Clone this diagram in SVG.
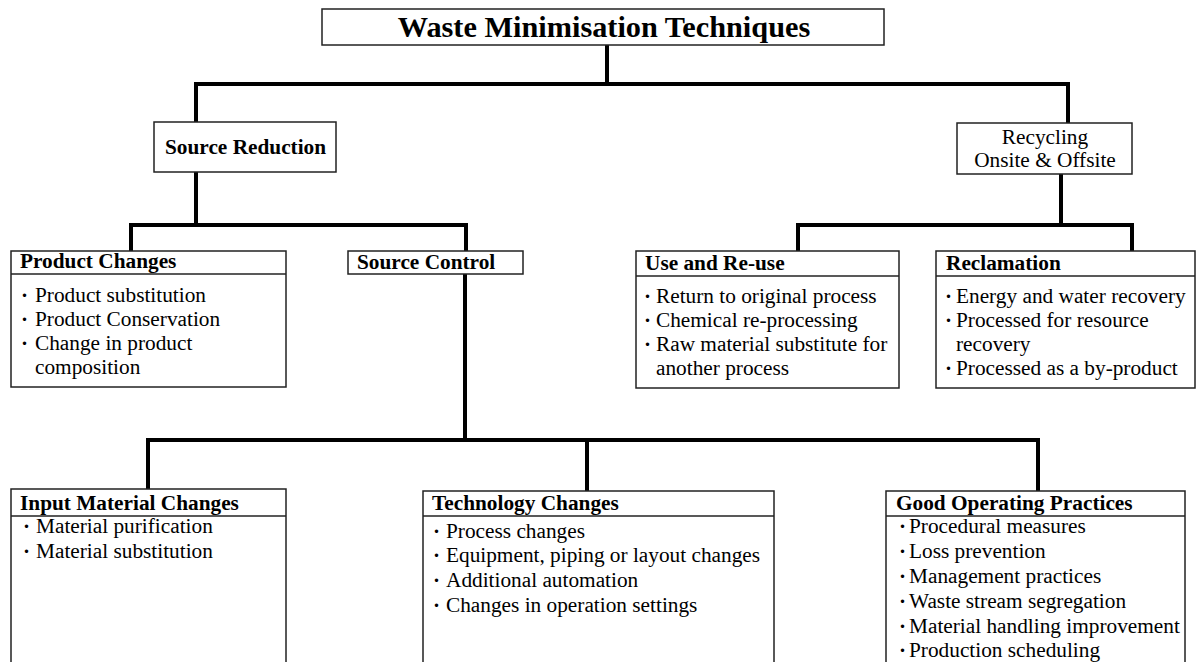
<svg xmlns="http://www.w3.org/2000/svg" width="1196" height="662" viewBox="0 0 1196 662">
<style>
.box{fill:#fff;stroke:#222;stroke-width:1.5}
.sep{stroke:#222;stroke-width:1.5;fill:none}
.con{stroke:#000;stroke-width:4;fill:none;stroke-linecap:square}
.t{font-family:"Liberation Serif","Times New Roman",serif;font-size:21.3px;fill:#000}
.h{font-family:"Liberation Serif","Times New Roman",serif;font-size:21.3px;font-weight:bold;fill:#000}
.title{font-family:"Liberation Serif","Times New Roman",serif;font-size:30.3px;font-weight:bold;fill:#000}
.b{font-family:"Liberation Serif","Times New Roman",serif;font-size:21px;font-weight:bold;fill:#000}
</style>
<rect width="1196" height="662" fill="#fff"/>
<g id="connectors">
<path class="con" d="M607,45 V84 M196,84 H1068 M196,84 V122 M1068,84 V123"/>
<path class="con" d="M196,172 V225 M131,225 H466 M131,225 V251 M466,225 V251 M465,274 V440"/>
<path class="con" d="M1061,174 V225 M798,225 H1132 M798,225 V251 M1132,225 V251"/>
<path class="con" d="M148,440 H1038 M148,440 V489 M587,440 V491 M1038,440 V491"/>
</g>
<g id="title">
<rect class="box" x="322" y="9" width="562" height="36"/>
<text class="title" x="604" y="37" text-anchor="middle">Waste Minimisation Techniques</text>
</g>
<g id="source-reduction">
<rect class="box" x="154" y="122" width="182" height="50"/>
<text class="h" x="165" y="154" font-size="22.4">Source Reduction</text>
</g>
<g id="recycling">
<rect class="box" x="957" y="123" width="175" height="51"/>
<text class="t" x="1045" y="144" text-anchor="middle">Recycling</text>
<text class="t" x="1045" y="167" text-anchor="middle">Onsite &amp; Offsite</text>
</g>
<g id="product-changes">
<rect class="box" x="11" y="251" width="275" height="136"/>
<line class="sep" x1="11" y1="274" x2="286" y2="274"/>
<text class="h" x="20" y="268">Product Changes</text>
<text class="b" x="21" y="302">·</text><text class="t" x="35" y="302">Product substitution</text>
<text class="b" x="21" y="326">·</text><text class="t" x="35" y="326">Product Conservation</text>
<text class="b" x="21" y="350">·</text><text class="t" x="35" y="350">Change in product</text>
<text class="t" x="35" y="374">composition</text>
</g>
<g id="source-control">
<rect class="box" x="348" y="251" width="175" height="23"/>
<text class="h" x="357" y="269">Source Control</text>
</g>
<g id="use-reuse">
<rect class="box" x="636" y="251" width="263" height="137"/>
<line class="sep" x1="636" y1="276" x2="899" y2="276"/>
<text class="h" x="645" y="270">Use and Re-use</text>
<text class="b" x="644" y="303">·</text><text class="t" x="656" y="303">Return to original process</text>
<text class="b" x="644" y="327">·</text><text class="t" x="656" y="327">Chemical re-processing</text>
<text class="b" x="644" y="351">·</text><text class="t" x="656" y="351">Raw material substitute for</text>
<text class="t" x="656" y="375">another process</text>
</g>
<g id="reclamation">
<rect class="box" x="936" y="251" width="259" height="137"/>
<line class="sep" x1="936" y1="276" x2="1195" y2="276"/>
<text class="h" x="946" y="270">Reclamation</text>
<text class="b" x="945" y="303">·</text><text class="t" x="956" y="303">Energy and water recovery</text>
<text class="b" x="945" y="327">·</text><text class="t" x="956" y="327">Processed for resource</text>
<text class="t" x="956" y="351">recovery</text>
<text class="b" x="945" y="375">·</text><text class="t" x="956" y="375">Processed as a by-product</text>
</g>
<g id="input-material-changes">
<rect class="box" x="11" y="489" width="275" height="185"/>
<line class="sep" x1="11" y1="516" x2="286" y2="516"/>
<text class="h" x="20" y="510">Input Material Changes</text>
<text class="b" x="23" y="533">·</text><text class="t" x="36" y="533">Material purification</text>
<text class="b" x="23" y="558">·</text><text class="t" x="36" y="558">Material substitution</text>
</g>
<g id="technology-changes">
<rect class="box" x="423" y="491" width="351" height="185"/>
<line class="sep" x1="423" y1="516" x2="774" y2="516"/>
<text class="h" x="432" y="510">Technology Changes</text>
<text class="b" x="433" y="538">·</text><text class="t" x="446" y="538">Process changes</text>
<text class="b" x="433" y="562">·</text><text class="t" x="446" y="562">Equipment, piping or layout changes</text>
<text class="b" x="433" y="587">·</text><text class="t" x="446" y="587">Additional automation</text>
<text class="b" x="433" y="612">·</text><text class="t" x="446" y="612">Changes in operation settings</text>
</g>
<g id="good-operating-practices">
<rect class="box" x="886" y="491" width="299" height="185"/>
<line class="sep" x1="886" y1="516" x2="1185" y2="516"/>
<text class="h" x="896" y="510">Good Operating Practices</text>
<text class="b" x="899" y="533">·</text><text class="t" x="909" y="533">Procedural measures</text>
<text class="b" x="899" y="558">·</text><text class="t" x="909" y="558">Loss prevention</text>
<text class="b" x="899" y="583">·</text><text class="t" x="909" y="583">Management practices</text>
<text class="b" x="899" y="608">·</text><text class="t" x="909" y="608">Waste stream segregation</text>
<text class="b" x="899" y="633">·</text><text class="t" x="909" y="633">Material handling improvement</text>
<text class="b" x="899" y="657">·</text><text class="t" x="909" y="657">Production scheduling</text>
</g>
</svg>
